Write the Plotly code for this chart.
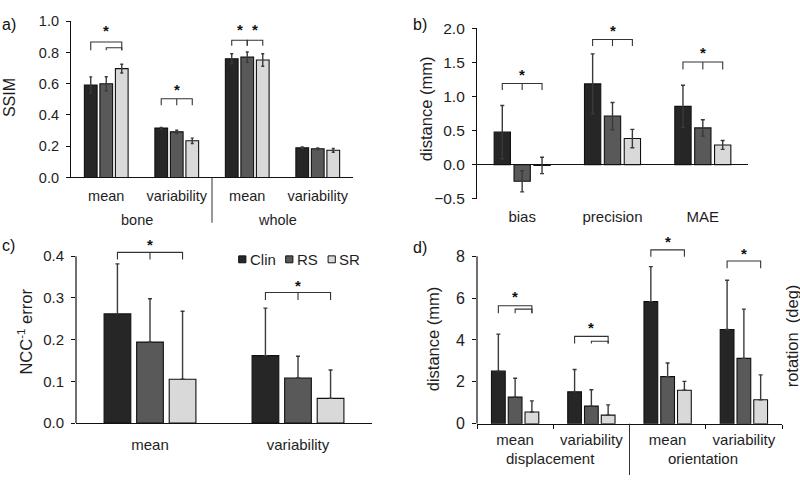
import plotly.graph_objects as go

FONT = "Liberation Sans, Arial, sans-serif"
TXT = "#1e1e1e"

# ---------------- data ----------------
series = ["Clin", "RS", "SR"]
series_colors = ["#262626", "#595959", "#d9d9d9"]

# a) SSIM
a_outer = ["bone", "bone", "whole", "whole"]
a_inner = ["mean", "variability", "mean", "variability"]
a_clin = [0.592, 0.316, 0.760, 0.190]
a_rs = [0.600, 0.292, 0.770, 0.184]
a_sr = [0.697, 0.235, 0.752, 0.174]
a_clin_err = [0.052, 0.005, 0.032, 0.005]
a_rs_err = [0.045, 0.010, 0.033, 0.005]
a_sr_err = [0.028, 0.017, 0.040, 0.012]

# b) distance (mm)
b_cats = ["bias", "precision", "MAE"]
b_clin = [0.476, 1.184, 0.854]
b_rs = [-0.245, 0.712, 0.538]
b_sr = [-0.012, 0.382, 0.288]
b_clin_err = [0.39, 0.44, 0.31]
b_rs_err = [0.155, 0.20, 0.12]
b_sr_err = [0.12, 0.135, 0.065]

# c) NCC^-1 error
c_cats = ["mean", "variability"]
c_clin = [0.2615, 0.1615]
c_rs = [0.194, 0.108]
c_sr = [0.105, 0.059]
c_clin_err = [0.120, 0.114]
c_rs_err = [0.104, 0.052]
c_sr_err = [0.163, 0.068]

# d) displacement (mm) / orientation (deg)
d_outer = ["displacement", "displacement", "orientation", "orientation"]
d_inner = ["mean", "variability", "mean", "variability"]
d_clin = [2.51, 1.52, 5.83, 4.50]
d_rs = [1.27, 0.84, 2.25, 3.12]
d_sr = [0.56, 0.41, 1.60, 1.14]
d_clin_err = [1.77, 1.07, 1.67, 2.35]
d_rs_err = [0.90, 0.78, 0.65, 2.35]
d_sr_err = [0.53, 0.49, 0.42, 1.19]

# significance brackets: (category index, series from, series to, y bar, y leg, middle tick)
a_brackets = [(0, 0, 2, 0.867, 0.815, False), (0, 1, 2, 0.830, 0.815, False),
              (1, 0, 2, 0.504, 0.463, True),
              (2, 0, 1, 0.878, 0.843, False), (2, 1, 2, 0.878, 0.843, False)]
a_stars = [(0, 1.0, 0.94), (1, 1.0, 0.565), (2, 0.5, 0.95), (2, 1.5, 0.95)]
b_brackets = [(0, 0, 2, 1.19, 1.094, True), (1, 0, 2, 1.835, 1.74, True), (2, 0, 2, 1.505, 1.396, True)]
b_stars = [(0, 1.0, 1.325), (1, 1.0, 1.96), (2, 1.0, 1.637)]
c_brackets = [(0, 0, 2, 0.409, 0.392, True), (1, 0, 2, 0.313, 0.295, True)]
c_stars = [(0, 1.0, 0.428), (1, 1.0, 0.329)]
d_brackets = [(0, 0, 2, 5.63, 5.27, False), (0, 1, 2, 5.47, 5.27, False),
              (1, 0, 2, 4.17, 3.83, False), (1, 1, 2, 3.94, 3.83, False),
              (2, 0, 2, 8.30, 7.97, False), (3, 0, 2, 7.77, 7.42, False)]
d_stars = [(0, 1.0, 6.06), (1, 1.0, 4.6), (2, 1.0, 8.68), (3, 1.0, 8.15)]

BARGAP = 0.34
SLOT = (1 - BARGAP) / 3


def W(px):
    return px / 800.0


def H(py):
    return 1 - py / 484.0


a_keys = [o + " " + i for o, i in zip(a_outer, a_inner)]
d_keys = [o + " " + i for o, i in zip(d_outer, d_inner)]

fig = go.Figure()
ERR = dict(color="#3a3a3a", thickness=1.4)


def add_bars(x, vals_list, errs_list, xa, ya, symmetric, capw):
    for name, col, vals, errs in zip(series, series_colors, vals_list, errs_list):
        if symmetric:
            ey = dict(type="data", array=errs, visible=True, width=capw, **ERR)
        else:
            ey = dict(type="data", array=errs, arrayminus=[0] * len(errs), symmetric=False,
                      visible=True, width=capw, **ERR)
        fig.add_trace(go.Bar(x=x, y=vals, name=name,
                             marker=dict(color=col, line=dict(color="#111", width=1.1)),
                             error_y=ey, xaxis=xa, yaxis=ya, showlegend=False))


add_bars(a_keys, [a_clin, a_rs, a_sr], [a_clin_err, a_rs_err, a_sr_err], "x", "y", True, 1.5)
add_bars(b_cats, [b_clin, b_rs, b_sr], [b_clin_err, b_rs_err, b_sr_err], "x2", "y2", True, 2)
add_bars(c_cats, [c_clin, c_rs, c_sr], [c_clin_err, c_rs_err, c_sr_err], "x3", "y3", False, 2)
add_bars(d_keys, [d_clin, d_rs, d_sr], [d_clin_err, d_rs_err, d_sr_err], "x4", "y4", False, 2)

shapes = []
annotations = []


def pos(cat, k):
    return cat + (k - 1) * SLOT


def add_brackets(brs, stars, xa, ya):
    for cat, s0, s1, yb, yl, mid in brs:
        x0, x1 = pos(cat, s0), pos(cat, s1)
        path = f"M {x0},{yl} L {x0},{yb} L {x1},{yb} L {x1},{yl}"
        if mid:
            xm = (x0 + x1) / 2
            path += f" M {xm},{yb} L {xm},{yl}"
        shapes.append(dict(type="path", path=path, xref=xa, yref=ya,
                           line=dict(color="#333", width=1.1)))
    for cat, k, ys in stars:
        annotations.append(dict(x=pos(cat, k), y=ys, xref=xa, yref=ya, text="<b>*</b>", showarrow=False,
                                font=dict(family=FONT, size=15, color="#111"), yanchor="middle"))


add_brackets(a_brackets, a_stars, "x", "y")
add_brackets(b_brackets, b_stars, "x2", "y2")
add_brackets(c_brackets, c_stars, "x3", "y3")
add_brackets(d_brackets, d_stars, "x4", "y4")


# outer group labels + group dividers (a and d)
def outer_groups(outer):
    names, idx = [], []
    for i, o in enumerate(outer):
        if not names or names[-1] != o:
            names.append(o)
            idx.append([i])
        else:
            idx[-1].append(i)
    return names, idx


def add_outer(outer, xa, y_label_px, y_top_px, y_bot_px, size, shift):
    names, idx = outer_groups(outer)
    for n, ids in zip(names, idx):
        annotations.append(dict(x=(ids[0] + ids[-1]) / 2 + shift, y=H(y_label_px), xref=xa, yref="paper",
                                text=n, showarrow=False, yanchor="middle",
                                font=dict(family=FONT, size=size, color=TXT)))
    for ids in idx[1:]:
        xb = ids[0] - 0.5
        shapes.append(dict(type="line", xref=xa, yref="paper", x0=xb, x1=xb, y0=H(y_top_px), y1=H(y_bot_px),
                           line=dict(color="#333", width=1)))


add_outer(a_outer, "x", 219.3, 175, 222, 14.5, -0.07)
add_outer(d_outer, "x4", 466.7, 430.7, 484, 15, -0.03)

# manual y-axis lines for c and d (ranges extend above top tick)
shapes.append(dict(type="line", xref="x3 domain", yref="y3", x0=0, x1=0, y0=0, y1=0.4,
                   line=dict(color="#111", width=1.2)))
shapes.append(dict(type="line", xref="x4 domain", yref="y4", x0=0, x1=0, y0=0, y1=8,
                   line=dict(color="#111", width=1.2)))

# legend (panel c)
leg_x = [242.3, 289.3, 331.7]
for name, col, lx in zip(series, series_colors, leg_x):
    shapes.append(dict(type="rect", xref="paper", yref="paper", x0=W(lx - 3.6), x1=W(lx + 3.6),
                       y0=H(260 + 3.6), y1=H(260 - 3.6), fillcolor=col, line=dict(color="#111", width=1)))
    annotations.append(dict(x=W(lx + 5.5), y=H(260), xref="paper", yref="paper", text=name, showarrow=False,
                            xanchor="left", yanchor="middle", font=dict(family=FONT, size=15, color=TXT)))

# panel labels
for lab, px, py in [("a)", 0, 16), ("b)", 411, 16), ("c)", 0, 246), ("d)", 411, 248)]:
    annotations.append(dict(x=W(px), y=H(py), xref="paper", yref="paper", text=lab, showarrow=False,
                            xanchor="left", yanchor="middle", font=dict(family=FONT, size=16, color="#111")))

# y titles
for lab, px, py, sz in [("SSIM", 9.5, 92, 16), ("distance (mm)", 426, 104, 16.5),
                        ("NCC<sup>-1</sup> error", 25, 335, 16.5), ("distance (mm)", 433, 343, 16.5),
                        ("rotation  (deg)", 792, 340, 16.5)]:
    annotations.append(dict(x=W(px), y=H(py), xref="paper", yref="paper", text=lab, showarrow=False,
                            textangle=-90, xanchor="center", yanchor="middle",
                            font=dict(family=FONT, size=sz, color=TXT)))

tf145 = dict(family=FONT, size=14.5, color=TXT)
tf15 = dict(family=FONT, size=15, color=TXT)
ycommon = dict(ticks="outside", ticklen=4, tickcolor="#111", showgrid=False, ticklabelstandoff=4)

fig.update_layout(
    width=800, height=484, margin=dict(l=0, r=0, t=0, b=0),
    paper_bgcolor="white", plot_bgcolor="white",
    barmode="group", bargap=BARGAP, bargroupgap=0.18,
    font=dict(family=FONT, color=TXT),
    shapes=shapes, annotations=annotations, showlegend=False,
    xaxis=dict(domain=[W(71), W(353)], anchor="y", type="category", showline=True, linecolor="#111",
               linewidth=1.2, ticks="", tickvals=a_keys, ticktext=a_inner,
               tickfont=tf145, showgrid=False, ticklabelstandoff=5),
    yaxis=dict(domain=[H(175), H(12.7)], anchor="x", range=[0, 1.0], dtick=0.2, tickformat=".1f",
               showline=True, linecolor="#111", linewidth=1.2, zeroline=False, tickfont=tf145, **ycommon),
    xaxis2=dict(domain=[W(477), W(748)], anchor="y2", type="category", showline=False, ticks="",
                tickfont=tf15, showgrid=False, ticklabelstandoff=7),
    yaxis2=dict(domain=[H(197), H(20)], anchor="x2", range=[-0.5, 2.0], dtick=0.5, tickformat=".1f",
                showline=True, linecolor="#111", linewidth=1.2,
                zeroline=True, zerolinecolor="#111", zerolinewidth=1.2,
                tickfont=dict(family=FONT, size=15.5, color=TXT), **ycommon),
    xaxis3=dict(domain=[W(76), W(372)], anchor="y3", type="category", showline=True, linecolor="#111",
                linewidth=1.2, ticks="", tickfont=tf15, showgrid=False, ticklabelstandoff=8),
    yaxis3=dict(domain=[H(430), H(239.35)], anchor="x3", range=[0, 0.44], tickvals=[0, 0.1, 0.2, 0.3, 0.4],
                tickformat=".1f", showline=False, zeroline=False, tickfont=tf15, **ycommon),
    xaxis4=dict(domain=[W(477), W(782)], anchor="y4", type="category", showline=True, linecolor="#111",
                linewidth=1.2, ticks="outside", ticklen=4, tickcolor="#111", tickson="boundaries",
                tickvals=d_keys, ticktext=d_inner, tickfont=tf15, showgrid=False, ticklabelstandoff=2),
    yaxis4=dict(domain=[H(430.7), H(235)], anchor="x4", range=[0, 9], tickvals=[0, 2, 4, 6, 8],
                showline=False, zeroline=False, tickfont=dict(family=FONT, size=16, color=TXT), **ycommon),
)

fig.write_html("out.html")
